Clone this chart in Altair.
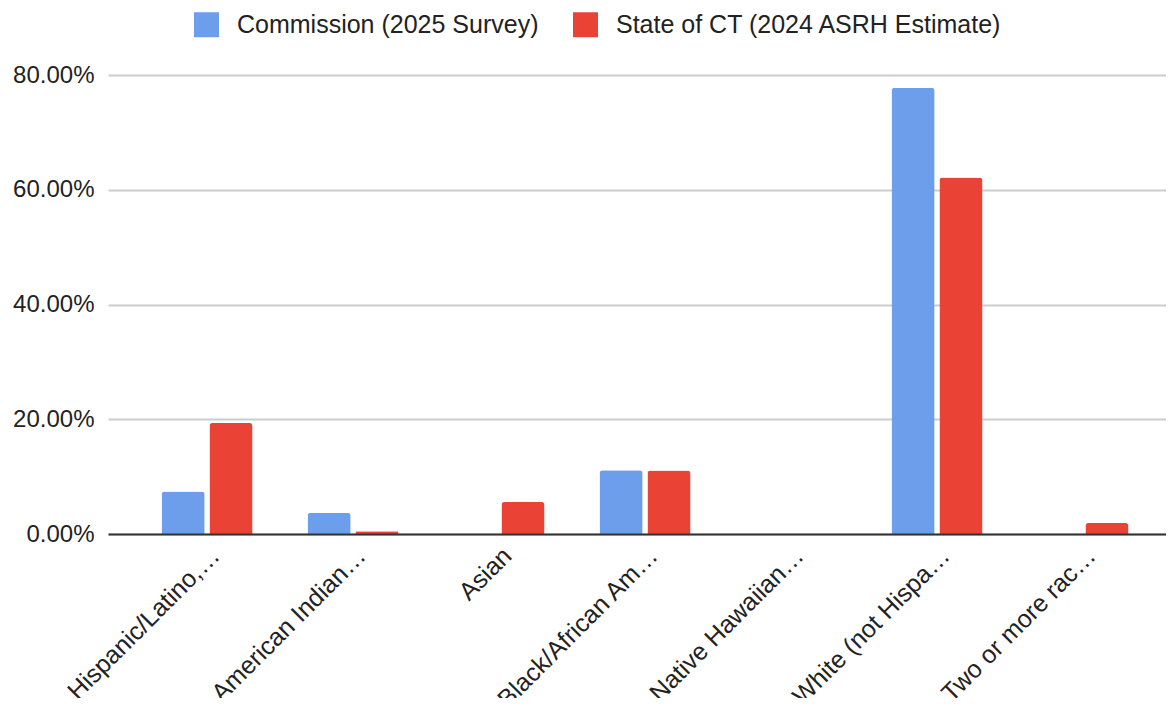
import altair as alt
import pandas as pd

categories = ["Hispanic/Latino,…", "American Indian…", "Asian", "Black/African Am…",
              "Native Hawaiian…", "White (not Hispa…", "Two or more rac…"]
series = ["Commission (2025 Survey)", "State of CT (2024 ASRH Estimate)"]
commission = [0.0741, 0.0370, 0.0, 0.1111, 0.0, 0.7778, 0.0]
state_ct = [0.1935, 0.0047, 0.0558, 0.1105, 0.0, 0.6212, 0.0192]
colors = ["#6D9EEB", "#EA4335"]
y_ticks = [0, 0.2, 0.4, 0.6, 0.8]

rows = []
for c, a, b in zip(categories, commission, state_ct):
    rows.append({"category": c, "series": series[0], "value": a})
    rows.append({"category": c, "series": series[1], "value": b})
df = pd.DataFrame(rows)

FONT = "Arial, Liberation Sans, sans-serif"

chart = alt.Chart(df).mark_bar(cornerRadiusTopLeft=3, cornerRadiusTopRight=3).encode(
    x=alt.X(
        "category:N", sort=categories,
        scale=alt.Scale(paddingInner=0.377, paddingOuter=0.312, align=0.588),
        axis=alt.Axis(title=None, labelAngle=-45, labelAlign="right", labelBaseline="top",
                      labelPadding=9, ticks=False, domainColor="#333333", domainWidth=2,
                      labelFontSize=25, labelColor="#222222", labelLimit=0, zindex=1,
                      labelFont=FONT),
    ),
    xOffset=alt.XOffset("series:N", sort=series,
                        scale=alt.Scale(paddingInner=0.1, paddingOuter=0)),
    y=alt.Y(
        "value:Q", scale=alt.Scale(domain=[0, 0.8], nice=False),
        axis=alt.Axis(title=None, values=y_ticks, format=".2%", domain=False, ticks=False,
                      grid=True, gridColor="#cccccc", gridWidth=2, labelPadding=14,
                      labelFontSize=24, labelColor="#222222", labelFont=FONT),
    ),
    color=alt.Color(
        "series:N", sort=series,
        scale=alt.Scale(domain=series, range=colors),
        legend=alt.Legend(title=None, orient="none", legendX=86, legendY=-63,
                          direction="horizontal", symbolType="square", symbolSize=625,
                          symbolStrokeWidth=0, labelFontSize=25, labelOffset=18,
                          columnPadding=34, labelColor="#222222", labelFont=FONT,
                          labelLimit=0),
    ),
).properties(
    width=1058, height=459,
    autosize=alt.AutoSizeParams(type="none"),
    padding={"left": 100, "top": 67, "right": 0, "bottom": 164},
).configure_view(stroke=None)

chart.save("out.html", embed_options={"renderer": "svg", "actions": False})
